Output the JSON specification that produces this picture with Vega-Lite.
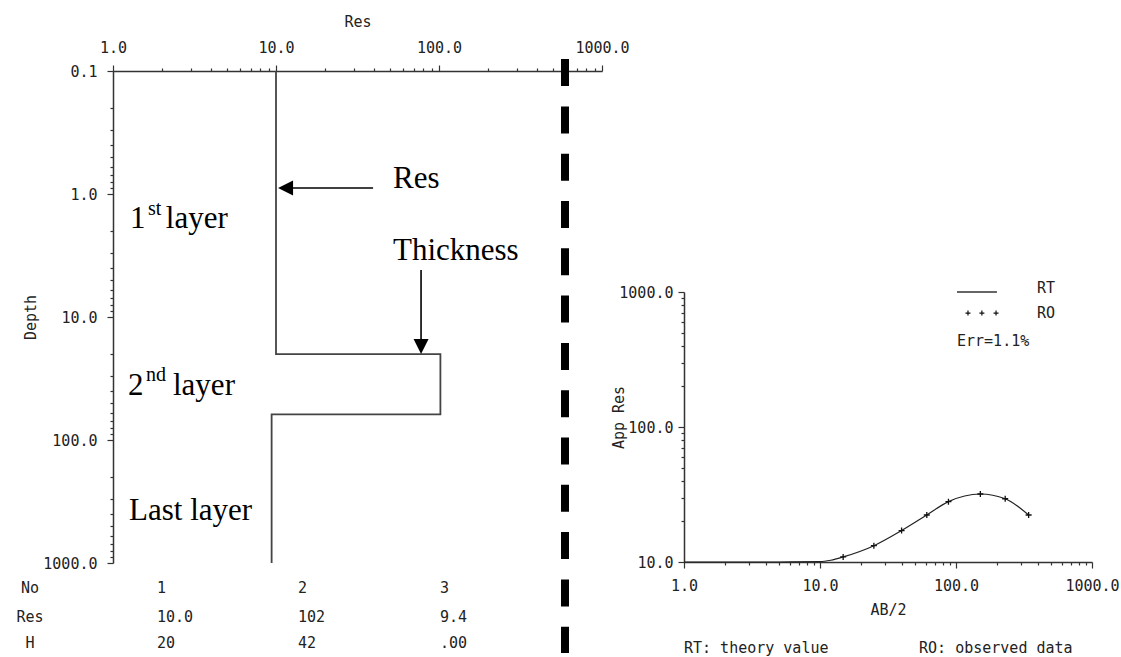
{
  "$schema": "https://vega.github.io/schema/vega-lite/v6.json",
  "background": "white",
  "padding": {"left": 16, "top": 14, "right": 0, "bottom": 0},
  "bounds": "flush",
  "spacing": 82,
  "config": {
    "view": {"stroke": null},
    "axis": {
      "grid": false,
      "domainColor": "#333333",
      "domainWidth": 1.5,
      "tickColor": "#333333",
      "tickWidth": 1.2,
      "tickSize": 6,
      "labelFont": "DejaVu Sans Mono",
      "labelFontSize": 15,
      "labelColor": "#222222",
      "labelFlush": false,
      "labelOverlap": false,
      "labelPadding": 10,
      "titleFont": "DejaVu Sans Mono",
      "titleFontSize": 15,
      "titleFontWeight": "normal",
      "titleColor": "#222222"
    }
  },
  "datasets": {
    "profile": [
      {"i": 1, "x": 10, "y": 0.1},
      {"i": 2, "x": 10, "y": 20},
      {"i": 3, "x": 102, "y": 20},
      {"i": 4, "x": 102, "y": 62},
      {"i": 5, "x": 9.4, "y": 62},
      {"i": 6, "x": 9.4, "y": 1000}
    ],
    "divider": [{"x": 593, "y": 0.08, "y2": 5400}],
    "arrowLines": [
      {"x": 39.4, "x2": 11, "y": 0.894, "y2": 0.894},
      {"x": 77.6, "x2": 77.6, "y": 4.15, "y2": 18}
    ],
    "headLeft": [{"x": 10.3, "y": 0.894}],
    "headDown": [{"x": 77.6, "y": 20}],
    "annot": [
      {"x": 1.27, "y": 1.89, "t": "1"},
      {"x": 2.11, "y": 1.89, "t": "layer"},
      {"x": 1.236, "y": 43.1, "t": "2"},
      {"x": 2.334, "y": 43.1, "t": "layer"},
      {"x": 1.254, "y": 447, "t": "Last layer"},
      {"x": 52.2, "y": 0.894, "t": "Res"},
      {"x": 52.2, "y": 3.44, "t": "Thickness"}
    ],
    "sup": [
      {"x": 1.64, "y": 1.48, "t": "st"},
      {"x": 1.594, "y": 33.1, "t": "nd"}
    ],
    "tableLabels": [
      {"x": 0.31, "y": 1597, "t": "No"},
      {"x": 0.31, "y": 2748, "t": "Res"},
      {"x": 0.31, "y": 4470, "t": "H"}
    ],
    "tableValues": [
      {"x": 1.862, "y": 1597, "t": "1"},
      {"x": 13.65, "y": 1597, "t": "2"},
      {"x": 101.4, "y": 1597, "t": "3"},
      {"x": 1.862, "y": 2748, "t": "10.0"},
      {"x": 13.65, "y": 2748, "t": "102"},
      {"x": 101.4, "y": 2748, "t": "9.4"},
      {"x": 1.862, "y": 4470, "t": "20"},
      {"x": 13.65, "y": 4470, "t": "42"},
      {"x": 101.4, "y": 4470, "t": ".00"}
    ],
    "rt": [
      {"x": 1, "y": 10},
      {"x": 5, "y": 10},
      {"x": 10, "y": 10.05},
      {"x": 12, "y": 10.3},
      {"x": 14.8, "y": 10.9},
      {"x": 24.9, "y": 13.2},
      {"x": 39.8, "y": 17.1},
      {"x": 61, "y": 22.3},
      {"x": 88, "y": 28},
      {"x": 151, "y": 31.9},
      {"x": 230, "y": 29.4},
      {"x": 342, "y": 22.3}
    ],
    "ro": [
      {"x": 14.8, "y": 10.9},
      {"x": 24.9, "y": 13.2},
      {"x": 39.8, "y": 17.1},
      {"x": 61, "y": 22.3},
      {"x": 88, "y": 28},
      {"x": 151, "y": 31.9},
      {"x": 230, "y": 29.4},
      {"x": 342, "y": 22.3}
    ],
    "legendLine": [{"x": 101.7, "x2": 200, "y": 1000, "y2": 1000}],
    "legendPlus": [
      {"x": 122.5, "y": 698},
      {"x": 155, "y": 698},
      {"x": 197, "y": 698}
    ],
    "rightTexts": [
      {"x": 394, "y": 1071, "t": "RT"},
      {"x": 394, "y": 698, "t": "RO"},
      {"x": 101.7, "y": 433, "t": "Err=1.1%"},
      {"x": 1.0, "y": 2.31, "t": "RT: theory value"},
      {"x": 53.5, "y": 2.31, "t": "RO: observed data"}
    ]
  },
  "hconcat": [
    {
      "width": 489,
      "height": 492,
      "encoding": {
        "x": {
          "field": "x",
          "type": "quantitative",
          "scale": {"type": "log", "domain": [1, 1000]},
          "axis": {
            "orient": "top",
            "title": "Res",
            "titleY": -50,
            "titleBaseline": "middle",
            "values": [1, 2, 3, 4, 5, 6, 7, 8, 9, 10, 20, 30, 40, 50, 60, 70, 80, 90, 100, 200, 300, 400, 500, 600, 700, 800, 900, 1000],
            "labelExpr": "abs(log(datum.value)/LN10 - round(log(datum.value)/LN10)) < 0.01 ? format(datum.value, '.1f') : ''",
            "tickDash": {"condition": {"test": "abs(log(datum.value)/LN10 - round(log(datum.value)/LN10)) < 0.01", "value": [6, 0]}, "value": [3, 20]}
          }
        },
        "y": {
          "field": "y",
          "type": "quantitative",
          "scale": {"type": "log", "domain": [0.1, 1000], "reverse": true},
          "axis": {
            "orient": "left",
            "title": "Depth",
            "titleX": -83,
            "titleBaseline": "middle",
            "values": [0.1, 0.2, 0.3, 0.4, 0.5, 0.6, 0.7, 0.8, 0.9, 1, 2, 3, 4, 5, 6, 7, 8, 9, 10, 20, 30, 40, 50, 60, 70, 80, 90, 100, 200, 300, 400, 500, 600, 700, 800, 900, 1000],
            "labelExpr": "abs(log(datum.value)/LN10 - round(log(datum.value)/LN10)) < 0.01 ? format(datum.value, '.1f') : ''",
            "tickDash": {"condition": {"test": "abs(log(datum.value)/LN10 - round(log(datum.value)/LN10)) < 0.01", "value": [6, 0]}, "value": [3, 20]}
          }
        }
      },
      "layer": [
        {
          "data": {"name": "profile"},
          "mark": {"type": "line", "color": "#444444", "strokeWidth": 1.8},
          "encoding": {"order": {"field": "i", "type": "quantitative"}}
        },
        {
          "data": {"name": "divider"},
          "mark": {"type": "rule", "color": "black", "strokeWidth": 8, "strokeDash": [27, 20.3], "strokeCap": "butt"},
          "encoding": {"y2": {"field": "y2"}}
        },
        {
          "data": {"name": "arrowLines"},
          "mark": {"type": "rule", "color": "black", "strokeWidth": 1.6},
          "encoding": {"x2": {"field": "x2"}, "y2": {"field": "y2"}}
        },
        {
          "data": {"name": "headLeft"},
          "mark": {"type": "point", "shape": "M0,0L1,-0.5L1,0.5Z", "size": 900, "filled": true, "color": "black", "opacity": 1, "strokeWidth": 0}
        },
        {
          "data": {"name": "headDown"},
          "mark": {"type": "point", "shape": "M0,0L-0.5,-1L0.5,-1Z", "size": 900, "filled": true, "color": "black", "opacity": 1, "strokeWidth": 0}
        },
        {
          "data": {"name": "annot"},
          "mark": {"type": "text", "align": "left", "baseline": "alphabetic", "font": "Liberation Serif", "fontSize": 31, "color": "black"},
          "encoding": {"text": {"field": "t"}}
        },
        {
          "data": {"name": "sup"},
          "mark": {"type": "text", "align": "left", "baseline": "alphabetic", "font": "Liberation Serif", "fontSize": 20, "color": "black"},
          "encoding": {"text": {"field": "t"}}
        },
        {
          "data": {"name": "tableLabels"},
          "mark": {"type": "text", "align": "center", "baseline": "middle", "font": "DejaVu Sans Mono", "fontSize": 15, "color": "#222222"},
          "encoding": {"text": {"field": "t"}}
        },
        {
          "data": {"name": "tableValues"},
          "mark": {"type": "text", "align": "left", "baseline": "middle", "font": "DejaVu Sans Mono", "fontSize": 15, "color": "#222222"},
          "encoding": {"text": {"field": "t"}}
        }
      ]
    },
    {
      "width": 408,
      "height": 491,
      "encoding": {
        "x": {
          "field": "x",
          "type": "quantitative",
          "scale": {"type": "log", "domain": [1, 1000]},
          "axis": {
            "orient": "bottom",
            "title": "AB/2",
            "titleY": 47,
            "titleBaseline": "middle",
            "values": [1, 2, 3, 4, 5, 6, 7, 8, 9, 10, 20, 30, 40, 50, 60, 70, 80, 90, 100, 200, 300, 400, 500, 600, 700, 800, 900, 1000],
            "labelExpr": "abs(log(datum.value)/LN10 - round(log(datum.value)/LN10)) < 0.01 ? format(datum.value, '.1f') : ''",
            "tickDash": {"condition": {"test": "abs(log(datum.value)/LN10 - round(log(datum.value)/LN10)) < 0.01", "value": [6, 0]}, "value": [3, 20]}
          }
        },
        "y": {
          "field": "y",
          "type": "quantitative",
          "scale": {"type": "log", "domain": [10, 1000], "range": [491, 221]},
          "axis": {
            "orient": "left",
            "title": "App Res",
            "titleX": -66,
            "titleY": 346,
            "titleBaseline": "middle",
            "labelPadding": 5,
            "values": [10, 20, 30, 40, 50, 60, 70, 80, 90, 100, 200, 300, 400, 500, 600, 700, 800, 900, 1000],
            "labelExpr": "abs(log(datum.value)/LN10 - round(log(datum.value)/LN10)) < 0.01 ? format(datum.value, '.1f') : ''",
            "tickDash": {"condition": {"test": "abs(log(datum.value)/LN10 - round(log(datum.value)/LN10)) < 0.01", "value": [6, 0]}, "value": [3, 20]}
          }
        }
      },
      "layer": [
        {
          "data": {"name": "rt"},
          "mark": {"type": "line", "color": "#222222", "strokeWidth": 1.2, "interpolate": "monotone"},
          "encoding": {}
        },
        {
          "data": {"name": "ro"},
          "mark": {"type": "point", "shape": "M-1,0L1,0M0,-1L0,1", "size": 36, "filled": false, "color": "#111111", "strokeWidth": 1.3, "opacity": 1}
        },
        {
          "data": {"name": "legendLine"},
          "mark": {"type": "rule", "color": "#333333", "strokeWidth": 1.3},
          "encoding": {"x2": {"field": "x2"}, "y2": {"field": "y2"}}
        },
        {
          "data": {"name": "legendPlus"},
          "mark": {"type": "point", "shape": "M-1,0L1,0M0,-1L0,1", "size": 25, "filled": false, "color": "#111111", "strokeWidth": 1.2, "opacity": 1}
        },
        {
          "data": {"name": "rightTexts"},
          "mark": {"type": "text", "align": "left", "baseline": "middle", "font": "DejaVu Sans Mono", "fontSize": 15, "color": "#222222"},
          "encoding": {"text": {"field": "t"}}
        }
      ]
    }
  ]
}
